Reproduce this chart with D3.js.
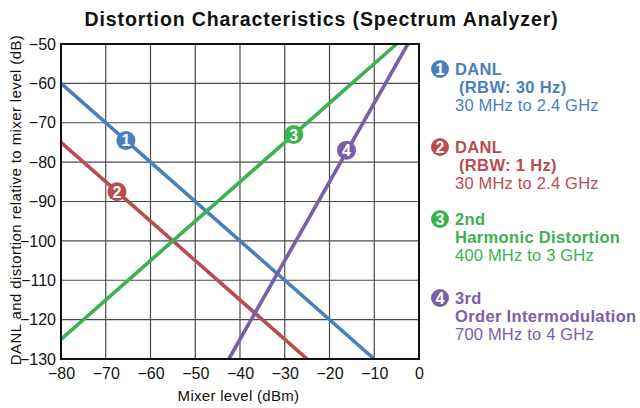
<!DOCTYPE html>
<html><head><meta charset="utf-8">
<script src="https://cdn.jsdelivr.net/npm/d3@7"></script>
<style>body{margin:0;background:#fff;font-family:"Liberation Sans",Arial,sans-serif;}</style>
</head><body><svg id="c" width="640" height="408"></svg>
<script>
const xTicks=[-80,-70,-60,-50,-40,-30,-20,-10,0];
const yTicks=[-50,-60,-70,-80,-90,-100,-110,-120,-130];
const seriesNames=["1","2","3","4"];
const seriesColors=["#4a7fbd","#bc4b4f","#3bb150","#7a5ea8"];
// line endpoints [x,y] in data units
const danl30=[[-80,-60],[-10,-130]];
const danl1=[[-80,-75],[-25,-130]];
const harm2=[[-80,-125],[-5,-50]];
const im3=[[-42.5,-130],[-2.5,-50]];
const markerPos=[[-65.5,-74.5],[-67.5,-87.5],[-28,-73],[-16.2,-77]];
const legendLines=[
 ["DANL","(RBW: 30 Hz)","30 MHz to 2.4 GHz"],
 ["DANL","(RBW: 1 Hz)","30 MHz to 2.4 GHz"],
 ["2nd","Harmonic Distortion","400 MHz to 3 GHz"],
 ["3rd","Order Intermodulation","700 MHz to 4 GHz"]];
const legendIndent=[true,true,false,false];
const legendY=[69,147,219,298];

const svg=d3.select("#c");
const L=61,R=419,T=44,B=359;
const x=d3.scaleLinear().domain([-80,0]).range([L,R]);
const y=d3.scaleLinear().domain([-50,-130]).range([T,B]);

svg.append("text").attr("x",321.5).attr("y",26).attr("text-anchor","middle")
 .attr("font-size",19.5).attr("font-weight","bold").attr("fill","#111").attr("letter-spacing",0.9)
 .text("Distortion Characteristics (Spectrum Analyzer)");

// grid
const g=svg.append("g");
g.selectAll(".vx").data(xTicks.slice(1,-1)).enter().append("line")
 .attr("x1",d=>x(d)).attr("x2",d=>x(d)).attr("y1",T).attr("y2",B)
 .attr("stroke","#4a4a4a").attr("stroke-width",1.2);
g.selectAll(".hy").data(yTicks.slice(1,-1)).enter().append("line")
 .attr("y1",d=>y(d)).attr("y2",d=>y(d)).attr("x1",L).attr("x2",R)
 .attr("stroke","#4a4a4a").attr("stroke-width",1.2);

// axes
const xa=svg.append("g").attr("transform",`translate(0,${B})`)
 .call(d3.axisBottom(x).tickValues(xTicks).tickSize(0).tickPadding(9).tickFormat(d=>d<0?"\u2212"+(-d):d));
const ya=svg.append("g").attr("transform",`translate(${L},0)`)
 .call(d3.axisLeft(y).tickValues(yTicks).tickSize(0).tickPadding(5).tickFormat(d=>"\u2212"+(-d)));
[xa,ya].forEach(a=>{a.select(".domain").remove();a.selectAll("text").attr("font-size",16).attr("fill","#111").attr("font-family","Liberation Sans, Arial, sans-serif");});

svg.append("text").attr("x",238.5).attr("y",401).attr("text-anchor","middle").attr("font-size",15).attr("fill","#111").attr("letter-spacing",0.3).text("Mixer level (dBm)");
svg.append("text").attr("transform","translate(21,200) rotate(-90)").attr("text-anchor","middle").attr("font-size",15).attr("fill","#111").attr("letter-spacing",0.4).text("DANL and distortion relative to mixer level (dB)");

// clip
svg.append("clipPath").attr("id","clip").append("rect").attr("x",L).attr("y",T).attr("width",R-L).attr("height",B-T);
const lines=[danl30,danl1,harm2,im3];
const lg=d3.line().x(d=>x(d[0])).y(d=>y(d[1]));
svg.append("g").attr("clip-path","url(#clip)").selectAll("path").data(lines).enter().append("path")
 .attr("d",lg).attr("fill","none").attr("stroke",(d,i)=>seriesColors[i]).attr("stroke-width",3.6);

// frame
svg.append("rect").attr("x",L).attr("y",T).attr("width",R-L).attr("height",B-T).attr("fill","none").attr("stroke","#111").attr("stroke-width",2);

// markers
const mk=svg.append("g").selectAll("g").data(markerPos).enter().append("g")
 .attr("transform",d=>`translate(${x(d[0])},${y(d[1])})`);
mk.append("circle").attr("r",9.5).attr("fill",(d,i)=>seriesColors[i]);
mk.append("text").attr("text-anchor","middle").attr("dy",6).attr("font-size",16).attr("font-weight","bold").attr("fill","#fff").text((d,i)=>seriesNames[i]);

// legend
const lgd=svg.append("g").selectAll("g").data(legendLines).enter().append("g")
 .attr("transform",(d,i)=>`translate(0,${legendY[i]})`);
lgd.append("circle").attr("cx",440).attr("cy",0).attr("r",9).attr("fill",(d,i)=>seriesColors[i]);
lgd.append("text").attr("x",440).attr("y",6).attr("text-anchor","middle").attr("font-size",16).attr("font-weight","bold").attr("fill","#fff").text((d,i)=>seriesNames[i]);
const fs=16.5;
lgd.append("text").attr("x",455).attr("y",6).attr("font-size",fs).attr("font-weight","bold").attr("letter-spacing",0.35).attr("fill",(d,i)=>seriesColors[i]).text(d=>d[0]);
lgd.append("text").attr("x",(d,i)=>legendIndent[i]?459:455).attr("y",24).attr("font-size",fs).attr("font-weight","bold").attr("letter-spacing",0.35).attr("fill",(d,i)=>seriesColors[i]).text(d=>d[1]);
lgd.append("text").attr("x",455).attr("y",42).attr("font-size",fs).attr("fill",(d,i)=>seriesColors[i]).attr("letter-spacing",0.2).text(d=>d[2]);
</script></body></html>
